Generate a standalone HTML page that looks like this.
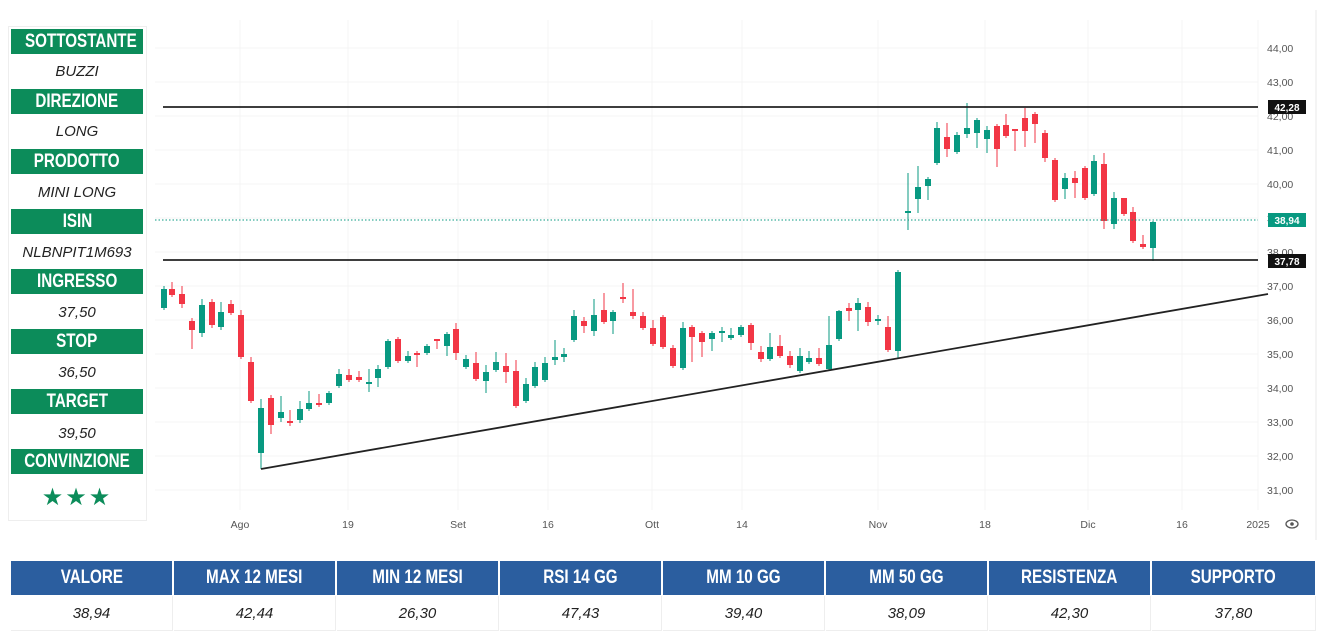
<!DOCTYPE html>
<html><head><meta charset="utf-8"><style>
body{margin:0;width:1328px;height:633px;background:#fff;overflow:hidden;position:relative;font-family:"Liberation Sans",sans-serif}
.h{position:absolute;left:11px;width:132px;height:25px;background:#0c8c5a;color:#fff;font-weight:bold;font-size:19px;line-height:25px;text-align:center;white-space:nowrap;overflow:hidden}
.h span,.th span{display:inline-block;transform:scaleX(.8);transform-origin:center}
.v{position:absolute;left:11px;width:132px;height:20px;color:#222;font-style:italic;font-size:15px;line-height:20px;text-align:center}
.th{position:absolute;top:561px;height:34px;background:#2b5e9f;color:#fff;font-weight:bold;font-size:19px;line-height:34px;text-align:center;white-space:nowrap}
.tv{position:absolute;top:596px;height:34px;border-right:1px solid #eee;border-bottom:1px solid #eee;color:#222;font-style:italic;font-size:15px;line-height:36px;text-align:center}
</style></head><body>
<div style="position:absolute;left:8px;top:26px;width:137px;height:493px;border:1px solid #eee"></div>
<div class="h" style="top:29px"><span>SOTTOSTANTE</span></div><div class="v" style="top:62px">BUZZI</div>
<div class="h" style="top:89px"><span>DIREZIONE</span></div><div class="v" style="top:122px">LONG</div>
<div class="h" style="top:149px"><span>PRODOTTO</span></div><div class="v" style="top:183px">MINI LONG</div>
<div class="h" style="top:209px"><span>ISIN</span></div><div class="v" style="top:243px">NLBNPIT1M693</div>
<div class="h" style="top:269px"><span>INGRESSO</span></div><div class="v" style="top:303px">37,50</div>
<div class="h" style="top:329px"><span>STOP</span></div><div class="v" style="top:363px">36,50</div>
<div class="h" style="top:389px"><span>TARGET</span></div><div class="v" style="top:424px">39,50</div>
<div class="h" style="top:449px"><span>CONVINZIONE</span></div>
<div class="v" style="top:488px;color:#0c8c5a;font-style:normal;font-size:24px;letter-spacing:2px">★★★</div>

<svg id="c" width="1328" height="550" style="position:absolute;left:0;top:0" xmlns="http://www.w3.org/2000/svg"></svg>

<div class="th" style="left:11px;width:161px"><span>VALORE</span></div><div class="tv" style="left:11px;width:161px">38,94</div>
<div class="th" style="left:174px;width:161px"><span>MAX 12 MESI</span></div><div class="tv" style="left:174px;width:161px">42,44</div>
<div class="th" style="left:337px;width:161px"><span>MIN 12 MESI</span></div><div class="tv" style="left:337px;width:161px">26,30</div>
<div class="th" style="left:500px;width:161px"><span>RSI 14 GG</span></div><div class="tv" style="left:500px;width:161px">47,43</div>
<div class="th" style="left:663px;width:161px"><span>MM 10 GG</span></div><div class="tv" style="left:663px;width:161px">39,40</div>
<div class="th" style="left:826px;width:161px"><span>MM 50 GG</span></div><div class="tv" style="left:826px;width:161px">38,09</div>
<div class="th" style="left:989px;width:161px"><span>RESISTENZA</span></div><div class="tv" style="left:989px;width:161px">42,30</div>
<div class="th" style="left:1152px;width:163px"><span>SUPPORTO</span></div><div class="tv" style="left:1152px;width:163px">37,80</div>

<script>
var s='';
var G='#089981',R='#f23645';
function y(v){return 48+(44-v)*34;}
for(var v=31;v<=44;v++){s+='<line x1="155" x2="1258" y1="'+y(v)+'" y2="'+y(v)+'" stroke="#f4f4f4"/>';
s+='<text x="1267" y="'+(y(v)+4)+'" font-size="10.5" fill="#555" font-family="Liberation Sans">'+v+',00</text>';}
var xs=[[240,'Ago'],[348,'19'],[458,'Set'],[548,'16'],[652,'Ott'],[742,'14'],[878,'Nov'],[985,'18'],[1088,'Dic'],[1182,'16'],[1258,'2025']];
xs.forEach(function(a){s+='<line x1="'+a[0]+'" x2="'+a[0]+'" y1="20" y2="510" stroke="#f4f4f4"/>';
s+='<text x="'+a[0]+'" y="528" font-size="10.5" fill="#555" text-anchor="middle" font-family="Liberation Sans">'+a[1]+'</text>';});
s+='<line x1="1316" x2="1316" y1="10" y2="540" stroke="#e8e8e8"/>';
s+='<ellipse cx="1292" cy="524" rx="6" ry="4" fill="none" stroke="#555" stroke-width="1.3"/><circle cx="1292" cy="524" r="1.8" fill="#555"/>';
var C=[[164,289,308,286,310,G],[172,289,295,282,297,R],[182,294,304,286,308,R],[192,321,330,318,349,R],[202,305,333,299,337,G],[212,302,325,299,328,R],[221,312,327,302,330,G],[231,304,313,300,315,R],[241,315,357,310,359,R],[251,362,401,357,403,R],[261,408,453,399,469,G],[271,398,425,395,434,R],[281,412,418,396,422,G],[290,421,423,410,426,R],[300,409,420,401,423,G],[309,403,409,391,411,G],[319,403,405,394,407,R],[329,393,403,391,405,G],[339,374,386,369,388,G],[349,375,380,369,382,R],[359,377,380,371,382,R],[369,382,384,369,392,G],[378,369,378,365,387,G],[388,341,367,339,369,G],[398,339,361,337,363,R],[408,356,361,351,363,G],[417,353,355,351,367,R],[427,346,353,344,355,G],[437,339,341,339,349,R],[447,334,346,332,356,G],[456,329,353,323,360,R],[466,359,367,355,369,G],[476,363,379,352,381,R],[486,372,381,365,393,G],[496,362,370,352,372,G],[506,366,372,353,383,R],[516,371,406,360,408,R],[526,384,401,378,403,G],[535,367,386,362,388,G],
[545,363,380,357,382,G],[555,357,360,340,365,G],[564,354,357,348,362,G],[574,316,340,310,342,G],[584,321,326,317,333,R],[594,315,331,299,336,G],[604,310,322,293,324,R],[613,312,321,310,334,G],[623,297,299,283,303,R],[633,312,316,289,319,R],[643,316,328,312,330,R],[653,328,344,320,346,R],[663,317,347,315,349,R],[673,348,366,345,368,R],[683,328,368,322,370,G],[692,327,337,325,362,R],[702,333,342,331,357,R],[712,333,339,331,351,G],[722,331,333,327,342,G],[731,335,338,328,340,G],[741,327,335,325,337,G],[751,325,343,323,350,R],[761,352,359,346,362,R],[770,347,359,333,361,G],[780,346,356,335,358,R],[790,356,365,351,368,R],[800,356,371,348,373,G],[809,358,362,351,364,G],[819,358,364,348,366,R],[829,345,369,316,371,G],[839,311,339,310,341,G],[849,308,311,303,321,R],[858,303,310,298,331,G],[868,307,322,302,326,R],[878,319,321,315,325,G],[888,327,350,316,352,R],[898,272,351,270,358,G],
[908,211,213,173,230,G],[918,187,199,166,213,G],[928,179,186,177,200,G],[937,128,163,122,165,G],[947,137,149,123,157,R],[957,135,152,132,154,G],[967,128,134,103,138,G],[977,120,133,118,148,G],[987,130,139,126,153,G],[997,126,149,124,167,R],[1006,125,136,114,138,R],[1015,129,131,129,151,R],[1025,118,131,108,147,R],[1035,114,124,112,143,R],[1045,133,158,130,162,R],[1055,160,200,158,202,R],[1065,178,189,173,199,G],[1075,178,183,171,198,R],[1085,168,198,166,200,R],[1094,161,194,155,196,G],[1104,164,221,153,229,R],[1114,198,224,192,229,G],[1124,198,214,198,216,R],[1133,212,241,207,243,R],[1143,244,247,235,249,R],[1153,222,248,221,261,G]];
C.forEach(function(c){s+='<line x1="'+c[0]+'" x2="'+c[0]+'" y1="'+c[3]+'" y2="'+c[4]+'" stroke="'+c[5]+'" stroke-width="1"/>';
var h=Math.max(c[2]-c[1],1.5);s+='<rect x="'+(c[0]-3)+'" y="'+c[1]+'" width="6" height="'+h+'" fill="'+c[5]+'"/>';});
s+='<line x1="155" x2="1258" y1="220" y2="220" stroke="#089981" stroke-dasharray="1.5 2" stroke-width="1"/>';
s+='<line x1="163" x2="1258" y1="107" y2="107" stroke="#222" stroke-width="1.8"/>';
s+='<line x1="163" x2="1258" y1="260" y2="260" stroke="#222" stroke-width="1.8"/>';
s+='<line x1="261" x2="1268" y1="469" y2="294" stroke="#222" stroke-width="1.8"/>';
function tag(yy,txt,bg){s+='<rect x="1268" y="'+(yy-7)+'" width="38" height="14" fill="'+bg+'"/><text x="1287" y="'+(yy+4)+'" font-size="10" font-weight="bold" fill="#fff" text-anchor="middle" font-family="Liberation Sans">'+txt+'</text>';}
tag(107,'42,28','#111');tag(220,'38,94','#089981');tag(261,'37,78','#111');
document.getElementById('c').innerHTML=s;
</script>
</body></html>
